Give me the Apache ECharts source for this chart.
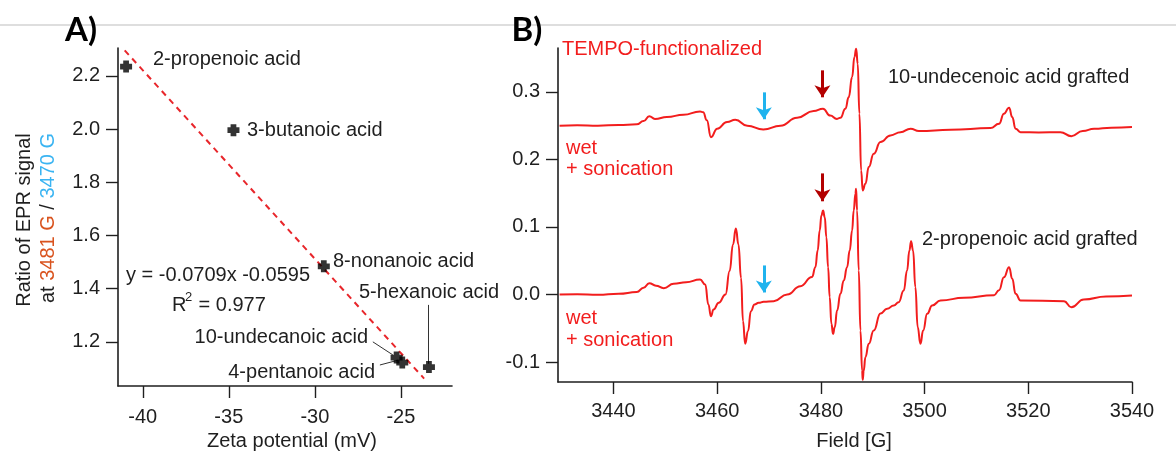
<!DOCTYPE html>
<html>
<head>
<meta charset="utf-8">
<script src="https://cdn.jsdelivr.net/npm/echarts@6/dist/echarts.min.js"></script>
<style>
  html, body { margin: 0; padding: 0; background: #fff; }
  #chart { width: 1176px; height: 453px; }
</style>
</head>
<body>
<div id="chart"></div>
<script>
// ---- Panel A: EPR signal ratio vs zeta potential ----
const acidNames = ['2-propenoic acid', '3-butanoic acid', '8-nonanoic acid',
                   '10-undecanoic acid', '4-pentanoic acid', '5-hexanoic acid'];
const zetaPotential = [-40.97, -34.73, -29.48, -25.25, -24.92, -23.37];
const eprRatio      = [2.235, 1.996, 1.484, 1.141, 1.122, 1.105];

// linear fit drawn across the data range
const fitZeta  = [-41.05, -23.65];
const fitRatio = [2.296, 1.062];

const zetaTicks  = [-40, -35, -30, -25];
const ratioTicks = [1.2, 1.4, 1.6, 1.8, 2.0, 2.2];

// ---- Panel B: EPR spectra (field in G, signal) ----
const fieldUndecenoic = [3429.6, 3433, 3437, 3441, 3444.5, 3445.8, 3446.9, 3448.0, 3450.3, 3453.5,
  3456.7, 3457.3, 3458.0, 3458.8, 3460.0, 3461.9, 3463.5, 3465.8, 3468.9, 3472.2,
  3475.4, 3478.6, 3480.4, 3481.8, 3483.1, 3483.77, 3484.73, 3485.37, 3486.02, 3486.47,
  3486.8, 3487.1, 3487.43, 3487.76, 3488.07, 3488.59, 3489.23, 3490.19, 3491.49, 3493.42,
  3495.35, 3497.3, 3498.9, 3505, 3512.7, 3514.36, 3515.3, 3516.3, 3516.9, 3517.55,
  3518.5, 3522, 3526.2, 3528.3, 3530.5, 3532.7, 3536, 3540];
const signalUndecenoic = [0.2500, 0.2505, 0.2500, 0.2510, 0.2520, 0.2568, 0.2640, 0.2600, 0.2627, 0.2662,
  0.2711, 0.2700, 0.2580, 0.2330, 0.2455, 0.2553, 0.2588, 0.2500, 0.2444, 0.2500,
  0.2618, 0.2716, 0.2750, 0.2650, 0.2600, 0.2618, 0.2751, 0.2923, 0.3220, 0.3516,
  0.3640, 0.3418, 0.2677, 0.1837, 0.1541, 0.1640, 0.1886, 0.2084, 0.2257, 0.2356,
  0.2404, 0.2455, 0.2420, 0.2440, 0.2464, 0.2528, 0.2677, 0.2766, 0.2627, 0.2455,
  0.2404, 0.2400, 0.2404, 0.2345, 0.2420, 0.2455, 0.2470, 0.2480];

const fieldPropenoic = [3429.6, 3433, 3437, 3441, 3444.5, 3445.8, 3446.9, 3448.2, 3449.7, 3451.6,
  3454, 3456.7, 3457.7, 3458.3, 3458.8, 3459.3, 3460.3, 3461.6, 3462.4, 3463.05,
  3463.6, 3464.1, 3464.6, 3464.98, 3465.4, 3465.94, 3466.5, 3467.2, 3468.0, 3468.96,
  3470.9, 3473.5, 3476.05, 3478.3, 3478.94, 3479.38, 3479.77, 3480.10, 3480.42, 3480.74,
  3481.06, 3481.39, 3481.70, 3482.03, 3482.35, 3482.67, 3483.13, 3483.77, 3484.41, 3485.05,
  3485.56, 3486.02, 3486.33, 3486.66, 3486.79, 3486.98, 3487.30, 3487.63, 3487.95, 3488.07,
  3488.26, 3488.59, 3489.23, 3490.19, 3491.49, 3492.77, 3494.06, 3495.0, 3495.98, 3496.62,
  3497.07, 3497.39, 3497.78, 3498.22, 3498.67, 3499.2, 3499.72, 3500.5, 3501.46, 3503.07,
  3507.6, 3513.4, 3514.36, 3515.3, 3516.3, 3516.9, 3517.55, 3518.5, 3526.9, 3528.3,
  3530.7, 3535, 3540];
const signalPropenoic = [0.0000, 0.0005, -0.0005, 0.0010, 0.0035, 0.0100, 0.0168, 0.0130, 0.0094, 0.0158,
  0.0180, 0.0222, 0.0148, -0.0148, -0.0321, -0.0222, -0.0123, 0.0000, 0.0346, 0.0741,
  0.0978, 0.0741, 0.0247, -0.0395, -0.0730, -0.0543, -0.0247, -0.0148, -0.0123, -0.0109,
  -0.0099, 0.0000, 0.0123, 0.0260, 0.0405, 0.0652, 0.0948, 0.1170, 0.1244, 0.1146,
  0.0849, 0.0405, -0.0040, -0.0435, -0.0583, -0.0484, -0.0237, 0.0010, 0.0207, 0.0405,
  0.0652, 0.0948, 0.1244, 0.1491, 0.1566, 0.1244, 0.0356, -0.0533, -0.1126, -0.1264,
  -0.1126, -0.0928, -0.0731, -0.0533, -0.0280, -0.0212, -0.0163, -0.0114, 0.0059, 0.0356,
  0.0652, 0.0790, 0.0652, 0.0109, -0.0484, -0.0731, -0.0533, -0.0286, -0.0163, -0.0089,
  -0.0049, -0.0010, 0.0064, 0.0257, 0.0405, 0.0232, 0.0010, -0.0089, -0.0099, -0.0188,
  -0.0074, -0.0030, -0.0015];

const fieldTicks  = [3440, 3460, 3480, 3500, 3520, 3540];
const signalTicks = [-0.1, 0.0, 0.1, 0.2, 0.3];

// fields marked with arrows
const markedFieldLow  = 3469;   // 3470 G reference
const markedFieldHigh = 3480.3; // 3481 G reference

// ---- styling ----
const FONT = '"Liberation Sans", Arial, sans-serif';
const INK = '#1f1f1f';
const TRACE = '#f21d1d';
const ARROW_RED = '#b30000';
const ARROW_BLUE = '#1fb3ee';

function zip(a, b) { return a.map((v, i) => [v, b[i]]); }

function axisCommon(ticks, fmt, margin) {
  return {
    axisLine: { show: true, onZero: false, lineStyle: { color: INK, width: 1.6 } },
    axisTick: { show: true, inside: false, length: 12, customValues: ticks,
                lineStyle: { color: INK, width: 1.4 } },
    axisLabel: { customValues: ticks, formatter: fmt, margin: margin,
                 fontSize: 20, color: INK, fontFamily: FONT },
    splitLine: { show: false }
  };
}

const fmt0 = v => String(Math.round(v));
const fmt1 = v => (Math.abs(v) < 1e-9 ? 0 : v).toFixed(1);

const crossSymbol = 'path://M2.6,0 H7.4 V2.6 H10 V7.4 H7.4 V10 H2.6 V7.4 H0 V2.6 H2.6 Z';

function arrow(field, yFrom, yTo, color) {
  return [{ coord: [field, yFrom], lineStyle: { color: color } },
          { coord: [field, yTo] }];
}

const traceSeries = (fields, signals, arrows) => ({
  type: 'line', xAxisIndex: 1, yAxisIndex: 1, silent: true,
  data: zip(fields, signals),
  symbol: 'none', smooth: 0.5, smoothMonotone: 'x',
  lineStyle: { color: TRACE, width: 2 },
  markLine: {
    silent: true, symbol: ['none', 'arrow'], symbolSize: [12, 12], animation: false,
    label: { show: false }, lineStyle: { width: 3, type: 'solid' },
    data: arrows
  }
});

const option = {
  animation: false,
  backgroundColor: '#fff',
  grid: [
    { left: 118, top: 48, width: 334, height: 338 },
    { left: 558, top: 48, width: 574, height: 334 }
  ],
  xAxis: [
    Object.assign({ type: 'value', gridIndex: 0, min: -41.44, max: -22.03 },
                  axisCommon(zetaTicks, fmt0, 21)),
    Object.assign({ type: 'value', gridIndex: 1, min: 3429.3, max: 3540 },
                  axisCommon(fieldTicks, fmt0, 19))
  ],
  yAxis: [
    Object.assign({ type: 'value', gridIndex: 0, min: 1.034, max: 2.305 },
                  axisCommon(ratioTicks, fmt1, 18)),
    Object.assign({ type: 'value', gridIndex: 1, min: -0.1296, max: 0.365 },
                  axisCommon(signalTicks, fmt1, 18))
  ],
  series: [
    {
      type: 'line', xAxisIndex: 0, yAxisIndex: 0, silent: true,
      data: zip(fitZeta, fitRatio), symbol: 'none',
      lineStyle: { color: '#e8262b', width: 2, type: [6, 5] }, z: 2
    },
    {
      // leader lines from labels to points
      type: 'line', xAxisIndex: 0, yAxisIndex: 0, silent: true,
      data: [], symbol: 'none',
      markLine: {
        silent: true, symbol: ['none', 'none'], animation: false,
        label: { show: false },
        lineStyle: { color: '#333', width: 1, type: 'solid' },
        data: [
          [{ coord: [-23.43, 1.339] }, { coord: [-23.43, 1.118] }],
          [{ coord: [-26.63, 1.200] }, { coord: [-25.47, 1.151] }],
          [{ coord: [-26.22, 1.113] }, { coord: [-25.17, 1.131] }]
        ]
      }
    },
    {
      type: 'scatter', xAxisIndex: 0, yAxisIndex: 0, silent: true,
      data: zip(zetaPotential, eprRatio),
      symbol: crossSymbol, symbolSize: 12,
      itemStyle: { color: '#000' }, z: 5
    },
    traceSeries(fieldUndecenoic, signalUndecenoic, [
      arrow(markedFieldLow, 0.2993, 0.2595, ARROW_BLUE),
      arrow(markedFieldHigh, 0.3319, 0.2920, ARROW_RED)
    ]),
    traceSeries(fieldPropenoic, signalPropenoic, [
      arrow(markedFieldLow, 0.0430, 0.0030, ARROW_BLUE),
      arrow(markedFieldHigh, 0.1793, 0.1380, ARROW_RED)
    ])
  ],
  graphic: []
};

function txt(x, y, text, opts) {
  return {
    type: 'text', x: x, y: y, silent: true, z: 10,
    style: Object.assign({ text: text, fill: INK, font: '20px ' + FONT,
                           align: 'left', verticalAlign: 'middle' }, opts || {})
  };
}

option.graphic = [
  // header rule
  { type: 'line', shape: { x1: 0, y1: 25, x2: 1176, y2: 25 }, silent: true, z: 0,
    style: { stroke: '#bdbdbd', lineWidth: 1 } },
  txt(81, 30, 'A)', { font: 'bold 33px Lato, ' + FONT, fill: '#000', align: 'center' }),
  txt(527, 30, 'B)', { font: 'bold 33px Lato, ' + FONT, fill: '#000', align: 'center' }),

  // panel A axis titles
  txt(292, 441, 'Zeta potential (mV)', { align: 'center' }),
  Object.assign(txt(24, 220, 'Ratio of EPR signal', { align: 'center' }), { rotation: Math.PI / 2 }),
  Object.assign(txt(48, 218, '{k|at }{o|3481 G}{k| / }{b|3470 G}', {
    align: 'center',
    rich: {
      k: { fill: INK, font: '20px ' + FONT },
      o: { fill: '#d9531e', font: '20px ' + FONT },
      b: { fill: '#3ab4f2', font: '20px ' + FONT }
    }
  }), { rotation: Math.PI / 2 }),

  // panel A annotations
  txt(153, 59, acidNames[0]),
  txt(247, 130, acidNames[1]),
  txt(333, 261, acidNames[2]),
  txt(368, 337, acidNames[3], { align: 'right' }),
  txt(375, 372, acidNames[4], { align: 'right' }),
  txt(359, 292, acidNames[5]),
  txt(126, 275, 'y = -0.0709x -0.0595'),
  txt(172, 305, 'R'),
  txt(185, 297, '2', { font: '13px ' + FONT }),
  txt(193, 305, ' = 0.977'),

  // panel B axis title and annotations
  txt(854, 441, 'Field [G]', { align: 'center' }),
  txt(562, 49, 'TEMPO-functionalized', { fill: '#f21d1d' }),
  txt(888, 77, '10-undecenoic acid grafted'),
  txt(566, 148, 'wet', { fill: '#f21d1d' }),
  txt(566, 169, '+ sonication', { fill: '#f21d1d' }),
  txt(922, 239, '2-propenoic acid grafted'),
  txt(566, 318, 'wet', { fill: '#f21d1d' }),
  txt(566, 340, '+ sonication', { fill: '#f21d1d' })
];

const chart = echarts.init(document.getElementById('chart'), null, { renderer: 'canvas' });
chart.setOption(option);
</script>
</body>
</html>
